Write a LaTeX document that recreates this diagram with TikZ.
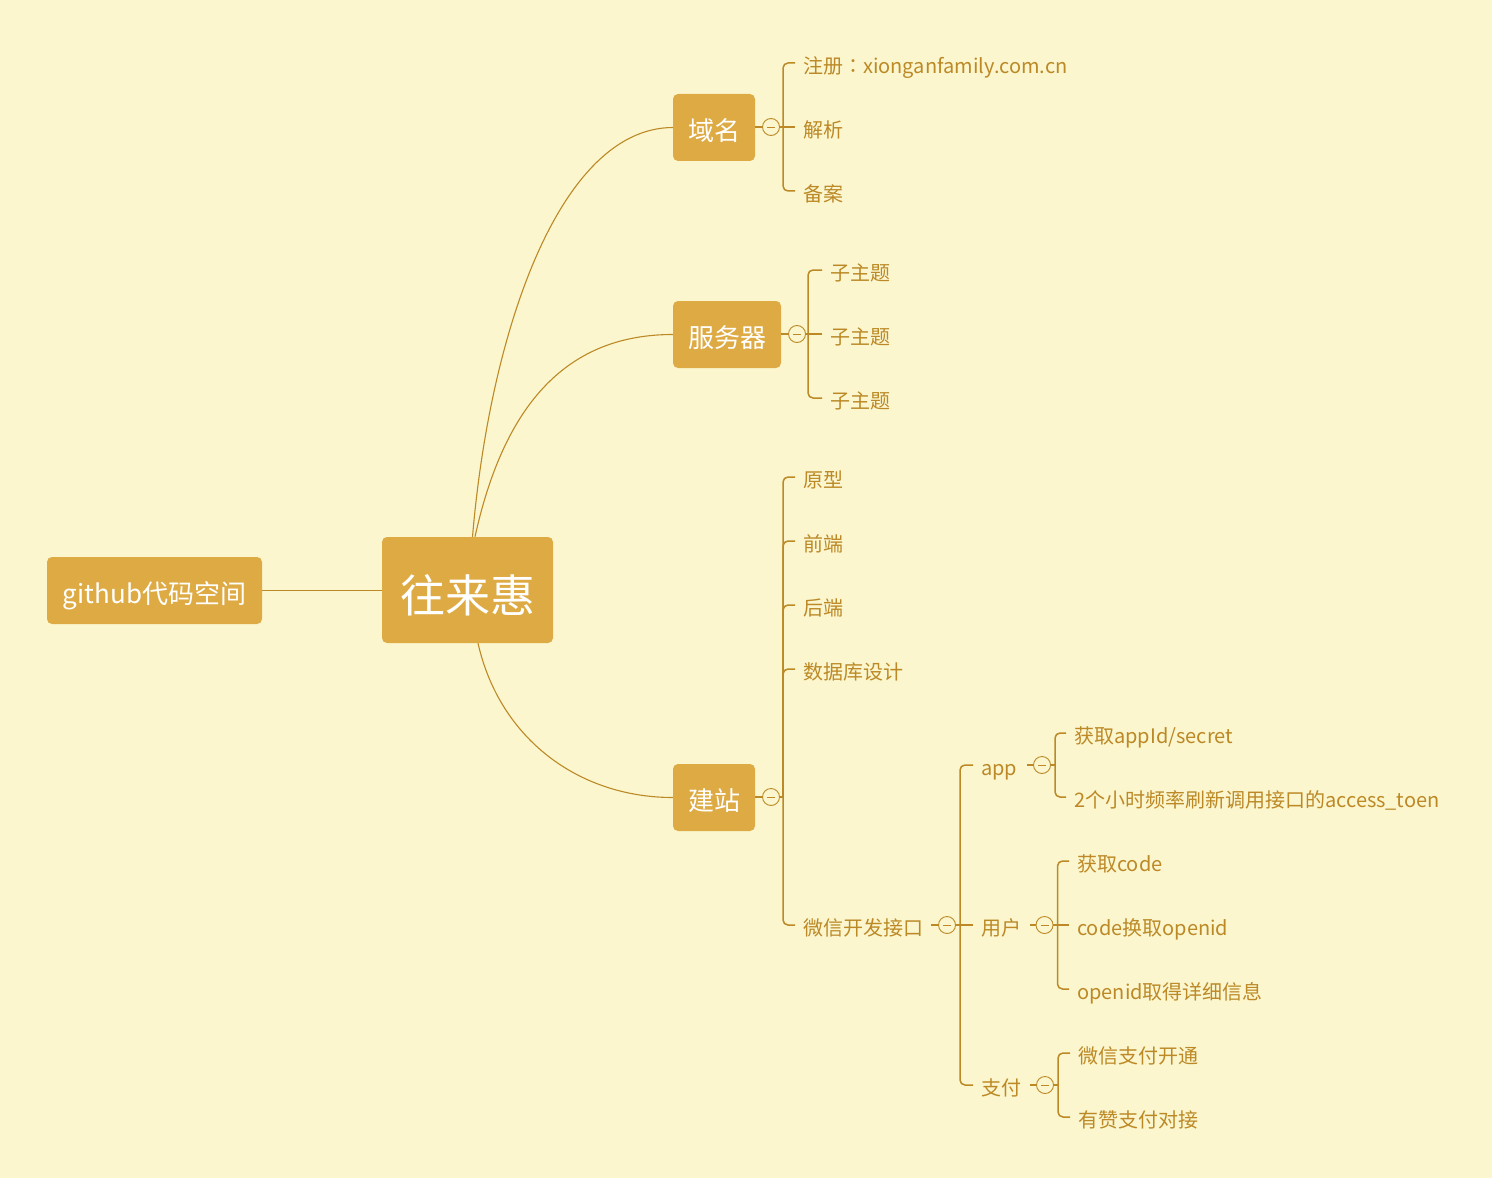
\documentclass[tikz,border=0pt]{standalone}
\usepackage{fontspec}
\setmainfont{Noto Sans CJK SC}
\newfontfamily\tcfont{Noto Sans CJK TC}
\usetikzlibrary{calc}
\definecolor{bgc}{RGB}{251,246,206}
\definecolor{nodec}{RGB}{222,170,68}
\definecolor{linec}{RGB}{188,137,38}
\tikzset{
  topic/.style={fill=nodec, rounded corners=5pt, text=white, inner sep=0pt, align=center},
  leaf/.style={anchor=west, inner sep=0pt, text=linec, font=\fontsize{20}{24}\selectfont, text height=17.6pt, text depth=2.4pt},
  fold/.style={circle, draw=linec, fill=bgc, line width=0.9pt, minimum size=17pt, inner sep=0pt,
    path picture={\draw[linec, line width=0.8pt] ([xshift=-4pt]path picture bounding box.center) -- ([xshift=4pt]path picture bounding box.center);}},
  conn/.style={draw=linec, line width=1.2pt},
  curveline/.style={draw=linec, line width=1.1pt},
  brace/.style={draw=linec, line width=1.5pt, rounded corners=5pt},
}
\begin{document}
\begin{tikzpicture}[x=1pt,y=-1pt]
\fill[white] (0,0) rectangle (1501,1185);
\fill[bgc] (0,0) rectangle (1492,1178);
\useasboundingbox (0,0) rectangle (1501,1185);

% main topics
\node[topic, minimum width=215pt, minimum height=67pt, font=\fontsize{26}{26}\selectfont, text height=26pt, text depth=0pt] (gh) at (154.5,590.5) {github代码空间};
\node[topic, minimum width=171pt, minimum height=106pt, font=\fontsize{45}{45}\selectfont, text height=44.6pt, text depth=0.4pt] (root) at (467.5,590) {往来惠};
\node[topic, minimum width=82pt, minimum height=67pt, font=\fontsize{26}{26}\selectfont, text height=25.9pt, text depth=0.1pt] (ym) at (714,127.5) {域名};
\node[topic, minimum width=108pt, minimum height=67pt, font=\fontsize{26}{26}\selectfont, text height=25.9pt, text depth=0.1pt] (fwq) at (727,334.5) {服务器};
\node[topic, minimum width=82pt, minimum height=67pt, font=\fontsize{26}{26}\selectfont, text height=25.9pt, text depth=0.1pt] (jz) at (714,797.5) {建站};

\draw[conn] (gh.east) -- (gh.east -| root.west);
\draw[curveline] ($(root.north)+(5,0)$) .. controls (490,330) and (560,128) .. (ym.west);
\draw[curveline] ($(root.north)+(7.5,0)$) .. controls (505,400) and (570,334.5) .. (fwq.west);
\draw[curveline] ($(root.south)+(10.5,0)$) .. controls (500,740) and (580,797.5) .. (jz.west);

% 域名 group
\node[fold] (f1) at (771,127) {};
\coordinate (s1) at (783,127);
\draw[conn] (f1.west -| ym.east) -- (f1.west);
\draw[conn] (f1.east) -- (s1);
\node[leaf] (y1) at (803,66) {注册{\tcfont ：}xionganfamily.com.cn};
\node[leaf] (y2) at (803,130) {解析};
\node[leaf] (y3) at (803,194) {备案};
\draw[brace] ($(y1.west)+(-8,-3)$) -| (s1);
\draw[brace] ($(y2.west)+(-8,-3)$) -- (s1);
\draw[brace] ($(y3.west)+(-8,-3)$) -| (s1);

% 服务器 group
\node[fold] (f2) at (797,334) {};
\coordinate (s2) at (808,334);
\draw[conn] (f2.west -| fwq.east) -- (f2.west);
\draw[conn] (f2.east) -- (s2);
\node[leaf] (v1) at (830,273) {子主题};
\node[leaf] (v2) at (830,337) {子主题};
\node[leaf] (v3) at (830,401) {子主题};
\draw[brace] ($(v1.west)+(-8,-3)$) -| (s2);
\draw[brace] ($(v2.west)+(-8,-3)$) -- (s2);
\draw[brace] ($(v3.west)+(-8,-3)$) -| (s2);

% 建站 group
\node[fold] (f3) at (771,797) {};
\coordinate (s3) at (783,797);
\draw[conn] (f3.west -| jz.east) -- (f3.west);
\draw[conn] (f3.east) -- (s3);
\node[leaf] (w1) at (803,480) {原型};
\node[leaf] (w2) at (803,544) {前端};
\node[leaf] (w3) at (803,608) {后端};
\node[leaf] (w4) at (803,672) {数据库设计};
\node[leaf] (w5) at (803,928) {微信开发接口};
\foreach \n in {w1,w2,w3,w4,w5} {
  \draw[brace] ($(\n.west)+(-8,-3)$) -| (s3);
}

% 微信开发接口 group
\node[fold] (f4) at (947,925) {};
\coordinate (s4) at (960,925);
\draw[conn] (f4.west) -- ++(-7,0);
\draw[conn] (f4.east) -- (s4);
\node[leaf] (a1) at (981,768) {app};
\node[leaf] (a2) at (981,928) {用户};
\node[leaf] (a3) at (981,1088) {支付};
\draw[brace] ($(a1.west)+(-8,-3)$) -| (s4);
\draw[brace] ($(a2.west)+(-8,-3)$) -- (s4);
\draw[brace] ($(a3.west)+(-8,-3)$) -| (s4);

% app group
\node[fold] (f5) at (1042,765) {};
\coordinate (s5) at (1055,765);
\draw[conn] (f5.west) -- ++(-6,0);
\draw[conn] (f5.east) -- (s5);
\node[leaf] (p1) at (1074,736) {获取appId/secret};
\node[leaf] (p2) at (1074,800) {2个小时频率刷新调用接口的access\_toen};
\draw[brace] ($(p1.west)+(-8,-3)$) -| (s5);
\draw[brace] ($(p2.west)+(-8,-3)$) -| (s5);

% 用户 group
\node[fold] (f6) at (1044.5,925) {};
\coordinate (s6) at (1057.5,925);
\draw[conn] (f6.west) -- ++(-6,0);
\draw[conn] (f6.east) -- (s6);
\node[leaf] (u1) at (1077,864) {获取code};
\node[leaf] (u2) at (1077,928) {code换取openid};
\node[leaf] (u3) at (1077,992) {openid取得详细信息};
\draw[brace] ($(u1.west)+(-8,-3)$) -| (s6);
\draw[brace] ($(u2.west)+(-8,-3)$) -- (s6);
\draw[brace] ($(u3.west)+(-8,-3)$) -| (s6);

% 支付 group
\node[fold] (f7) at (1045,1085) {};
\coordinate (s7) at (1058,1085);
\draw[conn] (f7.west) -- ++(-6,0);
\draw[conn] (f7.east) -- (s7);
\node[leaf] (z1) at (1078,1056) {微信支付开通};
\node[leaf] (z2) at (1078,1120) {有赞支付对接};
\draw[brace] ($(z1.west)+(-8,-3)$) -| (s7);
\draw[brace] ($(z2.west)+(-8,-3)$) -| (s7);
\end{tikzpicture}
\end{document}
